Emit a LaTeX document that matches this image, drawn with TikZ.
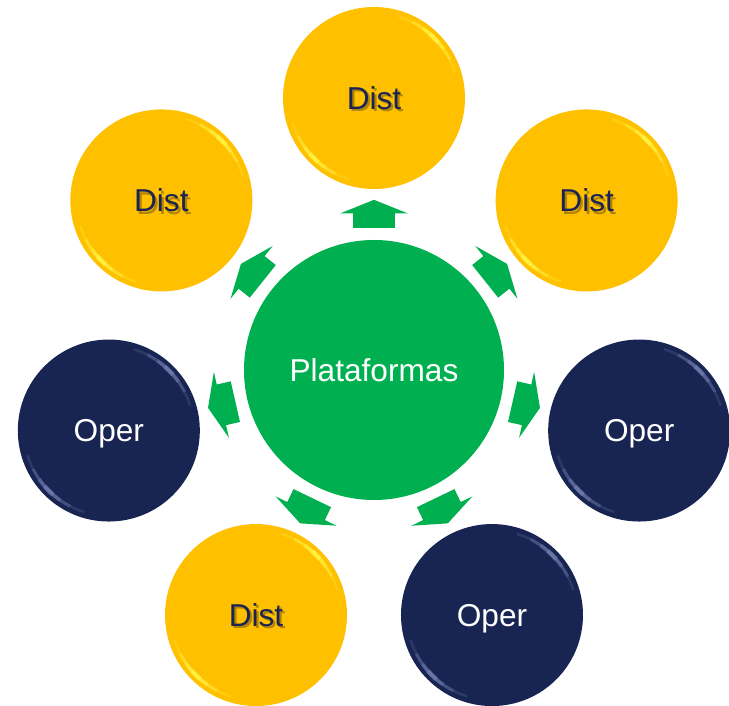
\documentclass[tikz,border=0pt]{standalone}
\usepackage{fontspec}
\setmainfont{Liberation Sans}
\usepackage{xcolor}
\usepackage{tikz}
\usetikzlibrary{shapes.arrows}
\definecolor{platgreen}{HTML}{00B050}
\definecolor{distgold}{HTML}{FFC000}
\definecolor{distglow}{HTML}{FFFF50}
\definecolor{opernavy}{HTML}{182451}
\definecolor{operglow}{HTML}{7F8DBF}
\definecolor{textnavy}{HTML}{1B2355}
\newcommand{\shadowed}[1]{\rlap{\kern1.3pt\raisebox{-1.3pt}{\color{distgold!70!black}#1}}#1}

\begin{document}
\begin{tikzpicture}[
  outer/.style={circle, minimum size=3.64cm, inner sep=0pt, font=\fontsize{18}{20}\selectfont, text height=12.9pt, text depth=0pt,
    path picture={
      \foreach \s/\w/\o in {4/2.6pt/0.45,10/2.2pt/0.35,18/1.8pt/0.3,28/1.4pt/0.2}{
        \draw[#1, line width=\w, opacity=\o] ([shift={(45-\s:1.70)}]path picture bounding box.center) arc[start angle=45-\s, end angle=45+\s, radius=1.70];
        \draw[#1, line width=\w, opacity=\o] ([shift={(225-\s:1.70)}]path picture bounding box.center) arc[start angle=225-\s, end angle=225+\s, radius=1.70];
      }
    }},
  dist/.style={outer=distglow, fill=distgold, text=textnavy},
  oper/.style={outer=operglow, fill=opernavy, text=white},
  hub/.style={circle, fill=platgreen, minimum size=5.2cm, inner sep=0pt, text=white, font=\fontsize{18}{20}\selectfont, text height=12.9pt, text depth=0pt},
  blockarrow/.style={single arrow, fill=platgreen, minimum height=0.56cm, inner sep=0pt, text height=0.41cm, text depth=0.41cm, text width=0pt, single arrow head extend=0.26cm, single arrow tip angle=136}
]
  \useasboundingbox (-7.48,-6.72) rectangle (7.10,7.40);

  % Centre
  \node[hub] (plat) at (0,0) {Plataformas};

  % Outer ring
  \node[dist] (dtop) at (90:5.44) {\shadowed{Dist}};
  \node[dist] (dtopright) at (38.57:5.44) {\shadowed{Dist}};
  \node[oper] (oright) at (-12.86:5.44) {Oper};
  \node[oper] (obotright) at (-64.29:5.44) {Oper};
  \node[dist] (dbotleft) at (-115.71:5.44) {\shadowed{Dist}};
  \node[oper] (oleft) at (-167.14:5.44) {Oper};
  \node[dist] (dtopleft) at (141.43:5.44) {\shadowed{Dist}};

  % Arrows
  \node[blockarrow, rotate=90] (atop) at (90:3.04) {};
  \node[blockarrow, rotate=38.57] (atopright) at (38.57:3.04) {};
  \node[blockarrow, rotate=-12.86] (aright) at (-12.86:3.04) {};
  \node[blockarrow, rotate=-64.29] (abotright) at (-64.29:3.04) {};
  \node[blockarrow, rotate=-115.71] (abotleft) at (-115.71:3.04) {};
  \node[blockarrow, rotate=-167.14] (aleft) at (-167.14:3.04) {};
  \node[blockarrow, rotate=141.43] (atopleft) at (141.43:3.04) {};
\end{tikzpicture}
\end{document}
